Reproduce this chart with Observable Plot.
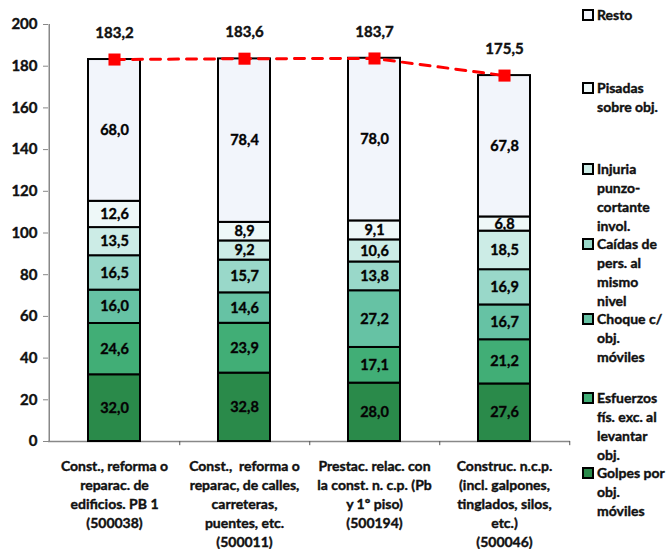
<!DOCTYPE html>
<html>
<head>
<meta charset="utf-8">
<script src="https://cdn.jsdelivr.net/npm/d3@7"></script>
<script src="https://cdn.jsdelivr.net/npm/@observablehq/plot@0.6"></script>
<style>
  body { margin: 0; background: #fff; font-family: Lato, "Open Sans", sans-serif; }
  #wrap { position: relative; width: 668px; height: 549px; }
  #legend { position: absolute; left: 582px; top: 0; width: 86px; font-weight: bold; font-size: 14px; line-height: 19px; color: #111; -webkit-text-stroke: 0.4px #111; }
  .item { position: absolute; left: 0; width: 86px; }
  .sw { position: absolute; left: 0; top: 4px; width: 8px; height: 8px; border: 2px solid #000; }
  .lab { margin-left: 15px; }
  #chart svg text { stroke: #111; stroke-width: 0.4px; }
</style>
</head>
<body>
<div id="wrap"><div id="chart"></div><div id="legend"></div></div>
<script>
const categories = [
  "Const., reforma o\nreparac. de\nedificios. PB 1\n(500038)",
  "Const.,  reforma o\nreparac, de calles,\ncarreteras,\npuentes, etc.\n(500011)",
  "Prestac. relac. con\nla const. n. c.p. (Pb\ny 1º piso)\n(500194)",
  "Construc. n.c.p.\n(incl. galpones,\ntinglados, silos,\netc.)\n(500046)"
];
const series = ["Golpes por obj. móviles", "Esfuerzos fís. exc. al levantar obj.", "Choque c/ obj. móviles", "Caídas de pers. al mismo nivel", "Injuria punzo-cortante invol.", "Pisadas sobre obj.", "Resto"];
const colors = ["#2a8a4a", "#41ae76", "#66c2a4", "#99d8c9", "#ccece6", "#eef8f8", "#f2f5fb"];
const golpes    = [32.0, 32.8, 28.0, 27.6];
const esfuerzos = [24.6, 23.9, 17.1, 21.2];
const choque    = [16.0, 14.6, 27.2, 16.7];
const caidas    = [16.5, 15.7, 13.8, 16.9];
const injuria   = [13.5, 9.2, 10.6, 18.5];
const pisadas   = [12.6, 8.9, 9.1, 6.8];
const resto     = [68.0, 78.4, 78.0, 67.8];
const totals    = [183.2, 183.6, 183.7, 175.5];
const yTicks = [0, 20, 40, 60, 80, 100, 120, 140, 160, 180, 200];
const legendTops = [5, 78, 159, 234, 309, 388, 463];
const legendLines = [["Resto"], ["Pisadas", "sobre obj."], ["Injuria", "punzo-", "cortante", "invol."], ["Caídas de", "pers. al", "mismo", "nivel"], ["Choque c/", "obj.", "móviles"], ["Esfuerzos", "fís. exc. al", "levantar", "obj."], ["Golpes por", "obj.", "móviles"]];

const valueSets = [golpes, esfuerzos, choque, caidas, injuria, pisadas, resto];
const rows = [];
categories.forEach((c, i) => {
  series.forEach((s, j) => rows.push({cat: c, series: s, value: valueSets[j][i]}));
});
const totalRows = categories.map((c, i) => ({cat: c, total: totals[i]}));
const fmt = v => d3.format(".1f")(v).replace(".", ",");
const FONT = "Lato, 'Open Sans', sans-serif";

const chart = Plot.plot({
  width: 582,
  height: 549,
  marginLeft: 48,
  marginRight: 12,
  marginTop: 24,
  marginBottom: 108,
  style: {fontFamily: FONT, fontWeight: "bold", fontSize: "14px", color: "#111", background: "#fff"},
  x: {domain: categories, paddingInner: 0.6, paddingOuter: 0.3, label: null},
  y: {domain: [0, 200], label: null},
  color: {domain: series, range: colors},
  marks: [
    Plot.axisY({ticks: yTicks, tickSize: 5, tickPadding: 6, stroke: "#888", fontSize: 15, fontWeight: "bold"}),
    Plot.axisX({tickSize: 0, tickPadding: 16, lineHeight: 1.35, fontSize: 14, fontWeight: "bold"}),
    Plot.ruleX([categories[0]], {x: d => d, y1: 0, y2: 200, dx: -65.25, stroke: "#888", strokeWidth: 1.5}),
    Plot.ruleY([0], {stroke: "#888", strokeWidth: 1.5}),
    Plot.ruleX(categories, {x: d => d, y1: 0, y2: -2, dx: 65.25, stroke: "#555"}),
    Plot.barY(rows, {x: "cat", y: "value", z: "series", fill: "series", stroke: "#000", strokeWidth: 2}),
    Plot.text(rows, Plot.stackY({x: "cat", y: "value", z: "series", text: d => fmt(d.value), fill: "#000", fontSize: 14.5, fontWeight: "bold"})),
    Plot.line(totalRows, {x: "cat", y: "total", stroke: "#ff0000", strokeWidth: 3, strokeDasharray: "10,8"}),
    Plot.dot(totalRows, {x: "cat", y: "total", symbol: "square", r: 6.8, fill: "#ff0000", stroke: "none"}),
    Plot.text(totalRows, {x: "cat", y: d => d.total + 12.6, text: d => fmt(d.total), fontSize: 15, fontWeight: "bold", fill: "#111"})
  ]
});
document.getElementById("chart").appendChild(chart);

const leg = document.getElementById("legend");
series.slice().reverse().forEach((s, k) => {
  const j = series.length - 1 - k;
  const div = document.createElement("div");
  div.className = "item";
  div.style.top = legendTops[k] + "px";
  const sw = document.createElement("div");
  sw.className = "sw";
  sw.style.background = colors[j];
  div.appendChild(sw);
  const lab = document.createElement("div");
  lab.className = "lab";
  lab.innerHTML = legendLines[k].join("<br>");
  div.appendChild(lab);
  leg.appendChild(div);
});
</script>
</body>
</html>
